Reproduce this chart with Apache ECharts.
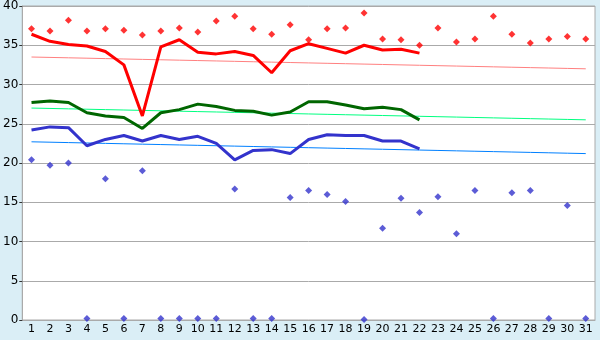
<!DOCTYPE html>
<html>
<head>
<meta charset="utf-8">
<script src="https://cdn.jsdelivr.net/npm/echarts@6/dist/echarts.min.js"></script>
<style>html,body{margin:0;padding:0;background:#daeef6;}#c{width:600px;height:340px;}</style>
</head>
<body>
<div id="c"></div>
<script>
var days = ['1','2','3','4','5','6','7','8','9','10','11','12','13','14','15','16','17','18','19','20','21','22','23','24','25','26','27','28','29','30','31'];
var yTicks = [0, 5, 10, 15, 20, 25, 30, 35, 40];
var maxDaily = [37.1,36.8,38.2,36.8,37.1,36.9,36.3,36.8,37.2,36.7,38.1,38.7,37.1,36.4,37.6,35.7,37.1,37.2,39.1,35.8,35.7,35.0,37.2,35.4,35.8,38.7,36.4,35.3,35.8,36.1,35.8];
var maxAvg = [36.4,35.5,35.1,34.9,34.2,32.5,26.0,34.8,35.7,34.1,33.9,34.2,33.7,31.5,34.3,35.2,34.6,34.0,35.0,34.4,34.5,34.0];
var maxNormal = [33.5,33.45,33.4,33.35,33.3,33.25,33.2,33.15,33.1,33.05,33.0,32.95,32.9,32.85,32.8,32.75,32.7,32.65,32.6,32.55,32.5,32.45,32.4,32.35,32.3,32.25,32.2,32.15,32.1,32.05,32.0];
var meanAvg = [27.7,27.9,27.7,26.4,26.0,25.8,24.4,26.4,26.8,27.5,27.2,26.7,26.6,26.1,26.5,27.8,27.8,27.4,26.9,27.1,26.8,25.5];
var meanNormal = [27.0,26.95,26.9,26.85,26.8,26.75,26.7,26.65,26.6,26.55,26.5,26.45,26.4,26.35,26.3,26.25,26.2,26.15,26.1,26.05,26.0,25.95,25.9,25.85,25.8,25.75,25.7,25.65,25.6,25.55,25.5];
var minAvg = [24.2,24.6,24.5,22.2,23.0,23.5,22.8,23.5,23.0,23.4,22.5,20.4,21.6,21.7,21.2,23.0,23.6,23.5,23.5,22.8,22.8,21.8];
var minNormal = [22.7,22.65,22.6,22.55,22.5,22.45,22.4,22.35,22.3,22.25,22.2,22.15,22.1,22.05,22.0,21.95,21.9,21.85,21.8,21.75,21.7,21.65,21.6,21.55,21.5,21.45,21.4,21.35,21.3,21.25,21.2];
var minDaily = [20.4,19.7,20.0,0.2,18.0,0.2,19.0,0.2,0.2,0.2,0.2,16.7,0.2,0.2,15.6,16.5,16.0,15.1,0.05,11.7,15.5,13.7,15.7,11.0,16.5,0.2,16.2,16.5,0.2,14.6,0.2];

var chart = echarts.init(document.getElementById('c'), null, {renderer: 'canvas'});
var font = 'DejaVu Sans';
chart.setOption({
  animation: false,
  backgroundColor: '#daeef6',
  grid: {left: 20, right: 5, top: 5, bottom: 20, show: true, backgroundColor: '#ffffff', borderColor: '#aaaaaa', borderWidth: 1},
  xAxis: {
    type: 'category', data: days, boundaryGap: true,
    axisLine: {lineStyle: {color: '#aaaaaa'}},
    axisTick: {alignWithLabel: true, length: 5, lineStyle: {color: '#000'}},
    axisLabel: {color: '#000', fontFamily: font, fontSize: 11, margin: 4, interval: 0}
  },
  yAxis: {
    type: 'value', min: yTicks[0], max: yTicks[yTicks.length - 1], interval: yTicks[1] - yTicks[0],
    axisLine: {show: true, lineStyle: {color: '#aaaaaa'}},
    axisTick: {show: true, length: 3, lineStyle: {color: '#333'}},
    axisLabel: {color: '#000', fontFamily: font, fontSize: 12, margin: 4},
    splitLine: {lineStyle: {color: '#aaaaaa'}}
  },
  series: [
    {type: 'line', data: maxNormal, symbol: 'none', lineStyle: {color: '#ff8080', width: 1}, z: 2},
    {type: 'line', data: meanNormal, symbol: 'none', lineStyle: {color: '#00ff80', width: 1}, z: 2},
    {type: 'line', data: minNormal, symbol: 'none', lineStyle: {color: '#0080ff', width: 1}, z: 2},
    {type: 'line', data: maxAvg, symbol: 'none', lineStyle: {color: '#ff0000', width: 3}, z: 3},
    {type: 'line', data: meanAvg, symbol: 'none', lineStyle: {color: '#006600', width: 3}, z: 3},
    {type: 'line', data: minAvg, symbol: 'none', lineStyle: {color: '#3333cc', width: 3}, z: 3},
    {type: 'scatter', data: maxDaily, symbol: 'diamond', symbolSize: 7, itemStyle: {color: '#ff0000'}, z: 4},
    {type: 'scatter', data: minDaily, symbol: 'diamond', symbolSize: 7, itemStyle: {color: '#3333cc'}, z: 4}
  ]
});
</script>
</body>
</html>
